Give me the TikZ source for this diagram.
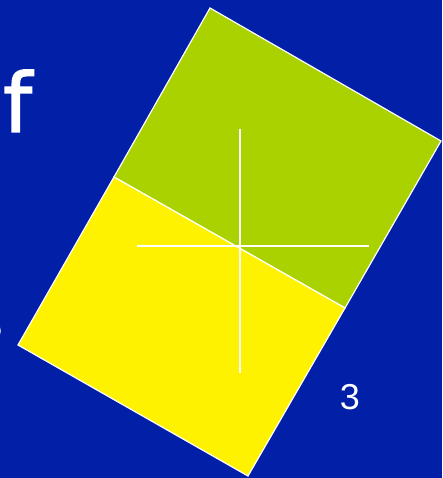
\documentclass[tikz,border=0pt]{standalone}
\usepackage{fontspec}
\setmainfont{Liberation Sans}
\newfontfamily\handfont[FakeBold=1.6]{DejaVu Sans}
\definecolor{slideblue}{RGB}{2,31,168}
\definecolor{leafgreen}{RGB}{170,210,0}
\begin{document}
\begin{tikzpicture}[x=1pt,y=-1pt,
  sq/.style={draw=white,line width=1.2pt,line join=miter},
  axis/.style={draw=white,line width=1.3pt},
  lbl/.style={text=white,inner sep=0pt}]
\fill[slideblue] (0,0) rectangle (442,478);
\useasboundingbox (0,0) rectangle (442,478);
\clip (0,0) rectangle (442,478);
% corners
\coordinate (gt) at (210,8);
\coordinate (gr) at (441,141);
\coordinate (m2) at (345,308);
\coordinate (m1) at (114,177);
\coordinate (yb) at (248,476);
\coordinate (yl) at (18,345);
% squares
\filldraw[sq,fill=leafgreen] (gt)--(gr)--(m2)--(m1)--cycle;
\filldraw[sq,fill=yellow] (m1)--(m2)--(yb)--(yl)--cycle;
% cross
\coordinate (c) at (240,246);
\draw[axis] (240,129)--(240,373);
\draw[axis] (137,246)--(369,246);
% labels
\node[lbl,font=\handfont\fontsize{82}{82}\selectfont,anchor=base west] (f) at (3,132) {f};
\node[lbl,font=\handfont\fontsize{26}{26}\selectfont,anchor=base east] (o) at (2,338) {o};
\node[lbl,font=\fontsize{36}{36}\selectfont,anchor=base] (three) at (350,409) {3};
\end{tikzpicture}
\end{document}
